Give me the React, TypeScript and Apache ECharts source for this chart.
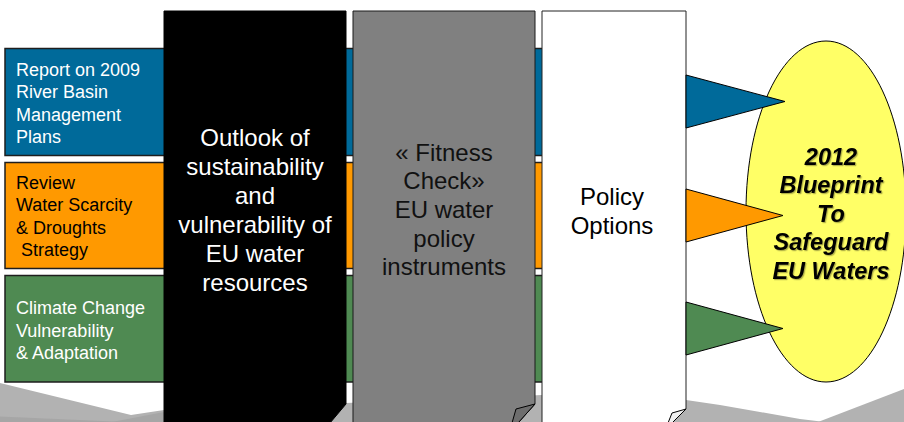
import React, { useEffect, useRef } from "react";
import * as echarts from "echarts";

// ---- content ----
const bandLabels: string[][] = [
  ["Report on 2009", "River Basin", "Management", "Plans"],
  ["Review", "Water Scarcity", "& Droughts", " Strategy"],
  ["Climate Change", "Vulnerability", "& Adaptation"],
];
const columnLabels: string[][] = [
  ["Outlook of", "sustainability", "and", "vulnerability of", "EU water", "resources"],
  ["« Fitness", "Check»", "EU water", "policy", "instruments"],
  ["Policy", "Options"],
];
const goalLabel: string[] = ["2012", "Blueprint", "To", "Safeguard", "EU Waters"];

// ---- styles ----
const bandFill = ["#006A9A", "#FF9900", "#4F8A52"];
const bandText = ["#FFFFFF", "#000000", "#FFFFFF"];
const colFill = ["#000000", "#808080", "#FFFFFF"];
const colText = ["#FFFFFF", "#111111", "#000000"];
const FONT = "'Liberation Sans', Arial, Helvetica, sans-serif";

export default function App() {
  const ref = useRef<HTMLDivElement>(null);
  useEffect(() => {
    if (!ref.current) return;
    const chart = echarts.init(ref.current, undefined, { renderer: "svg" });
    const els: any[] = [];
    let z = 1;
    const poly = (points: number[][], fill: string, stroke?: string, lw = 1) =>
      els.push({
        type: "polygon",
        z: z++,
        shape: { points },
        style: { fill, stroke: stroke || "none", lineWidth: lw },
        silent: true,
      });
    const text = (
      x: number,
      y: number,
      lines: string[],
      fill: string,
      size: number,
      lh: number,
      align: string,
      weight = "normal",
      style = "normal",
      shadow = false
    ) =>
      els.push({
        type: "text",
        z: z++,
        x,
        y,
        silent: true,
        style: {
          text: lines.join("\n"),
          fill,
          fontSize: size,
          fontFamily: FONT,
          fontWeight: weight,
          fontStyle: style,
          lineHeight: lh,
          align,
          verticalAlign: "middle",
          textAlign: align,
          textVerticalAlign: "middle",
          ...(shadow
            ? {
                textShadowColor: "rgba(0,0,0,0.3)",
                textShadowOffsetX: 1.2,
                textShadowOffsetY: 1.2,
                textShadowBlur: 0.5,
              }
            : {}),
        },
      });

    // background swoosh
    poly(
      [
        [0, 383], [131, 415], [164, 410], [346, 403], [542, 395], [686, 400],
        [720, 405], [760, 412], [800, 419], [825, 422], [0, 422],
      ],
      "#B2B2B2"
    );
    poly([[0, 416.5], [125, 422], [0, 422]], "#A6A6A6");
    poly([[112, 422], [164, 412], [164, 422]], "#A6A6A6");
    poly([[818, 422], [904, 389], [904, 422]], "#B2B2B2");

    // bands
    const bandTop = [48.5, 162.5, 275.5];
    const bandBot = [155.5, 268.5, 382];
    const bandTextY = [103.5, 216.5, 330.5];
    bandLabels.forEach((lines, i) => {
      poly(
        [[5, bandTop[i]], [560, bandTop[i]], [560, bandBot[i]], [5, bandBot[i]]],
        bandFill[i],
        "#1E1E1E",
        1.5
      );
      text(16, bandTextY[i], lines, bandText[i], 18, 22.4, "left");
    });

    // columns
    poly([[164, 11], [346, 11], [346, 404], [330, 423], [164, 423]], colFill[0], "#000", 1);
    poly([[353, 11], [535, 11], [535, 404], [518, 423], [353, 423]], colFill[1], "#1A1A1A", 1);
    poly([[535, 404], [516, 409], [512, 423], [518, 423]], "#6E6E6E", "#000", 1);
    poly([[542, 11], [686, 11], [686, 409], [672, 423], [542, 423]], colFill[2], "#222", 1);
    poly([[686, 409], [672, 413], [668, 423], [672, 423]], "#F0F0F0", "#000", 1);

    text(255, 210, columnLabels[0], colText[0], 24, 29, "center");
    text(444, 209.5, columnLabels[1], colText[1], 24, 28.7, "center");
    text(612, 211, columnLabels[2], colText[2], 24, 28.5, "center");

    // goal ellipse
    els.push({
      type: "ellipse",
      z: z++,
      silent: true,
      shape: { cx: 826, cy: 211.5, rx: 80, ry: 170.5 },
      style: { fill: "#FFFF66", stroke: "#000", lineWidth: 1 },
    });

    // arrows
    const triTop = [75, 189, 302];
    const triBot = [128, 242, 355];
    const triTip = [785, 783, 783];
    bandLabels.forEach((_, i) => {
      poly(
        [[686, triTop[i]], [triTip[i], (triTop[i] + triBot[i]) / 2], [686, triBot[i]]],
        bandFill[i],
        "#000",
        1
      );
    });

    text(831, 213.5, goalLabel, "#000", 23.5, 28.5, "center", "bold", "italic", true);

    chart.setOption({ animation: false, graphic: { elements: els } });
    return () => chart.dispose();
  }, []);
  return (
    <div
      ref={ref}
      style={{ position: "fixed", left: 0, top: 0, width: 904, height: 422, background: "#fff" }}
    />
  );
}
